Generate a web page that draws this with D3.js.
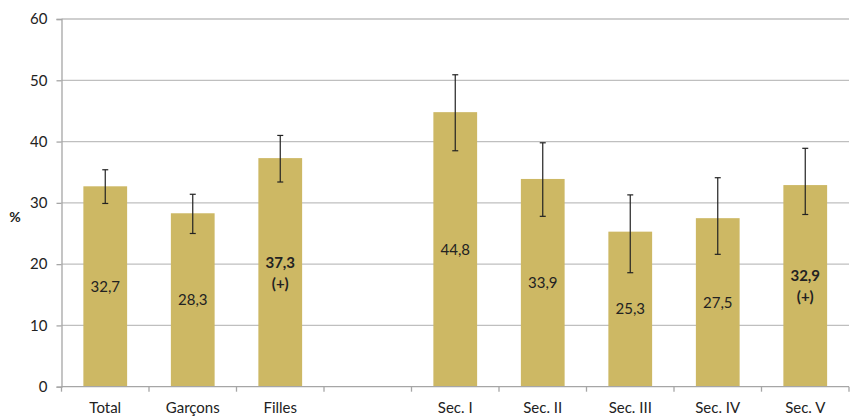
<!DOCTYPE html>
<html><head><meta charset="utf-8">
<script src="https://cdn.jsdelivr.net/npm/d3@7"></script>
<style>body{margin:0;background:#fff;} text{font-family:Lato, "Open Sans", sans-serif;}</style>
</head><body>
<svg id="c" width="850" height="419"></svg>
<script>
const categories = ["Total","Garçons","Filles","","Sec. I","Sec. II","Sec. III","Sec. IV","Sec. V"];
const values =     [32.7, 28.3, 37.3, null, 44.8, 33.9, 25.3, 27.5, 32.9];
const errLow =     [29.9, 25.0, 33.4, null, 38.5, 27.8, 18.6, 21.6, 28.1];
const errHigh =    [35.4, 31.4, 41.0, null, 50.9, 39.8, 31.3, 34.1, 38.9];
const flagged =    [false,false,true,false,false,false,false,false,true];
const yTicks = [0,10,20,30,40,50,60];
const labels = values.map(v => v == null ? "" : v.toFixed(1).replace(".", ","));

(function(){
const svg = d3.select("#c");
const mLeft = 61.5, mRight = 849, mTop = 19, mBottom = 386.7;
const x = d3.scaleBand().domain(categories.map((c,i)=>i)).range([mLeft,mRight]).paddingInner(0.5).paddingOuter(0.25);
const y = d3.scaleLinear().domain([0,60]).range([mBottom, mTop]);

// gridlines
svg.append("g").selectAll("line").data(yTicks.filter(t=>t>0)).join("line")
  .attr("x1", mLeft).attr("x2", mRight).attr("y1", d=>y(d)).attr("y2", d=>y(d))
  .attr("stroke", "#bfbfbf").attr("stroke-width", 1.3);

// y axis
const ya = svg.append("g").attr("transform", `translate(${mLeft},0)`)
  .call(d3.axisLeft(y).tickValues(yTicks).tickSize(5).tickPadding(9));
ya.select(".domain").attr("stroke", "#a6a6a6").attr("stroke-width",1.3);
ya.selectAll(".tick line").attr("stroke", "#a6a6a6").attr("stroke-width",1.3);
ya.selectAll("text").attr("font-size", 15).attr("fill", "#222").attr("font-family","Lato, sans-serif");

// bars
svg.append("g").selectAll("rect").data(values.map((v,i)=>({v,i})).filter(d=>d.v!=null)).join("rect")
  .attr("x", d=>x(d.i)).attr("width", x.bandwidth())
  .attr("y", d=>y(d.v)).attr("height", d=>y(0)-y(d.v))
  .attr("fill", "#cdb864");

// x axis
const band = x.step();
const xa = svg.append("g");
xa.append("line").attr("x1", mLeft).attr("x2", mRight).attr("y1", mBottom).attr("y2", mBottom)
  .attr("stroke", "#a6a6a6").attr("stroke-width",1.3);
xa.selectAll("line.t").data(d3.range(categories.length+1)).join("line").attr("class","t")
  .attr("x1", i=>mLeft + i*band).attr("x2", i=>mLeft + i*band)
  .attr("y1", mBottom).attr("y2", mBottom+5).attr("stroke", "#a6a6a6").attr("stroke-width",1.3);
xa.selectAll("text").data(categories.map((c,i)=>({c,i}))).join("text")
  .attr("x", d=>x(d.i)+x.bandwidth()/2).attr("y", 413)
  .attr("text-anchor","middle").attr("font-size",15).attr("fill","#222").text(d=>d.c);

// error bars
const eb = svg.append("g").attr("stroke","#222").attr("stroke-width",1.2);
values.forEach((v,i)=>{
  if (v==null) return;
  const cx = x(i)+x.bandwidth()/2;
  eb.append("line").attr("x1",cx).attr("x2",cx).attr("y1",y(errLow[i])).attr("y2",y(errHigh[i]));
  eb.append("line").attr("x1",cx-3).attr("x2",cx+3).attr("y1",y(errLow[i])).attr("y2",y(errLow[i]));
  eb.append("line").attr("x1",cx-3).attr("x2",cx+3).attr("y1",y(errHigh[i])).attr("y2",y(errHigh[i]));
});

// value labels
values.forEach((v,i)=>{
  if (v==null) return;
  const cx = x(i)+x.bandwidth()/2;
  const cy = y(v/2);
  if (flagged[i]) {
    svg.append("text").attr("x",cx).attr("y",cy-10).attr("dy","0.35em").attr("text-anchor","middle")
      .attr("font-size",15).attr("font-weight","bold").attr("fill","#222").text(labels[i]);
    svg.append("text").attr("x",cx).attr("y",cy+11).attr("dy","0.35em").attr("text-anchor","middle")
      .attr("font-size",15).attr("font-weight","bold").attr("fill","#222").text("(+)");
  } else {
    svg.append("text").attr("x",cx).attr("y",cy).attr("dy","0.35em").attr("text-anchor","middle")
      .attr("font-size",15).attr("fill","#222").text(labels[i]);
  }
});

// y label
svg.append("text").attr("x",15).attr("y",217).attr("dy","0.35em").attr("text-anchor","middle")
  .attr("font-size",14).attr("font-weight","bold").attr("fill","#222").text("%");
})();
</script>
</body></html>
